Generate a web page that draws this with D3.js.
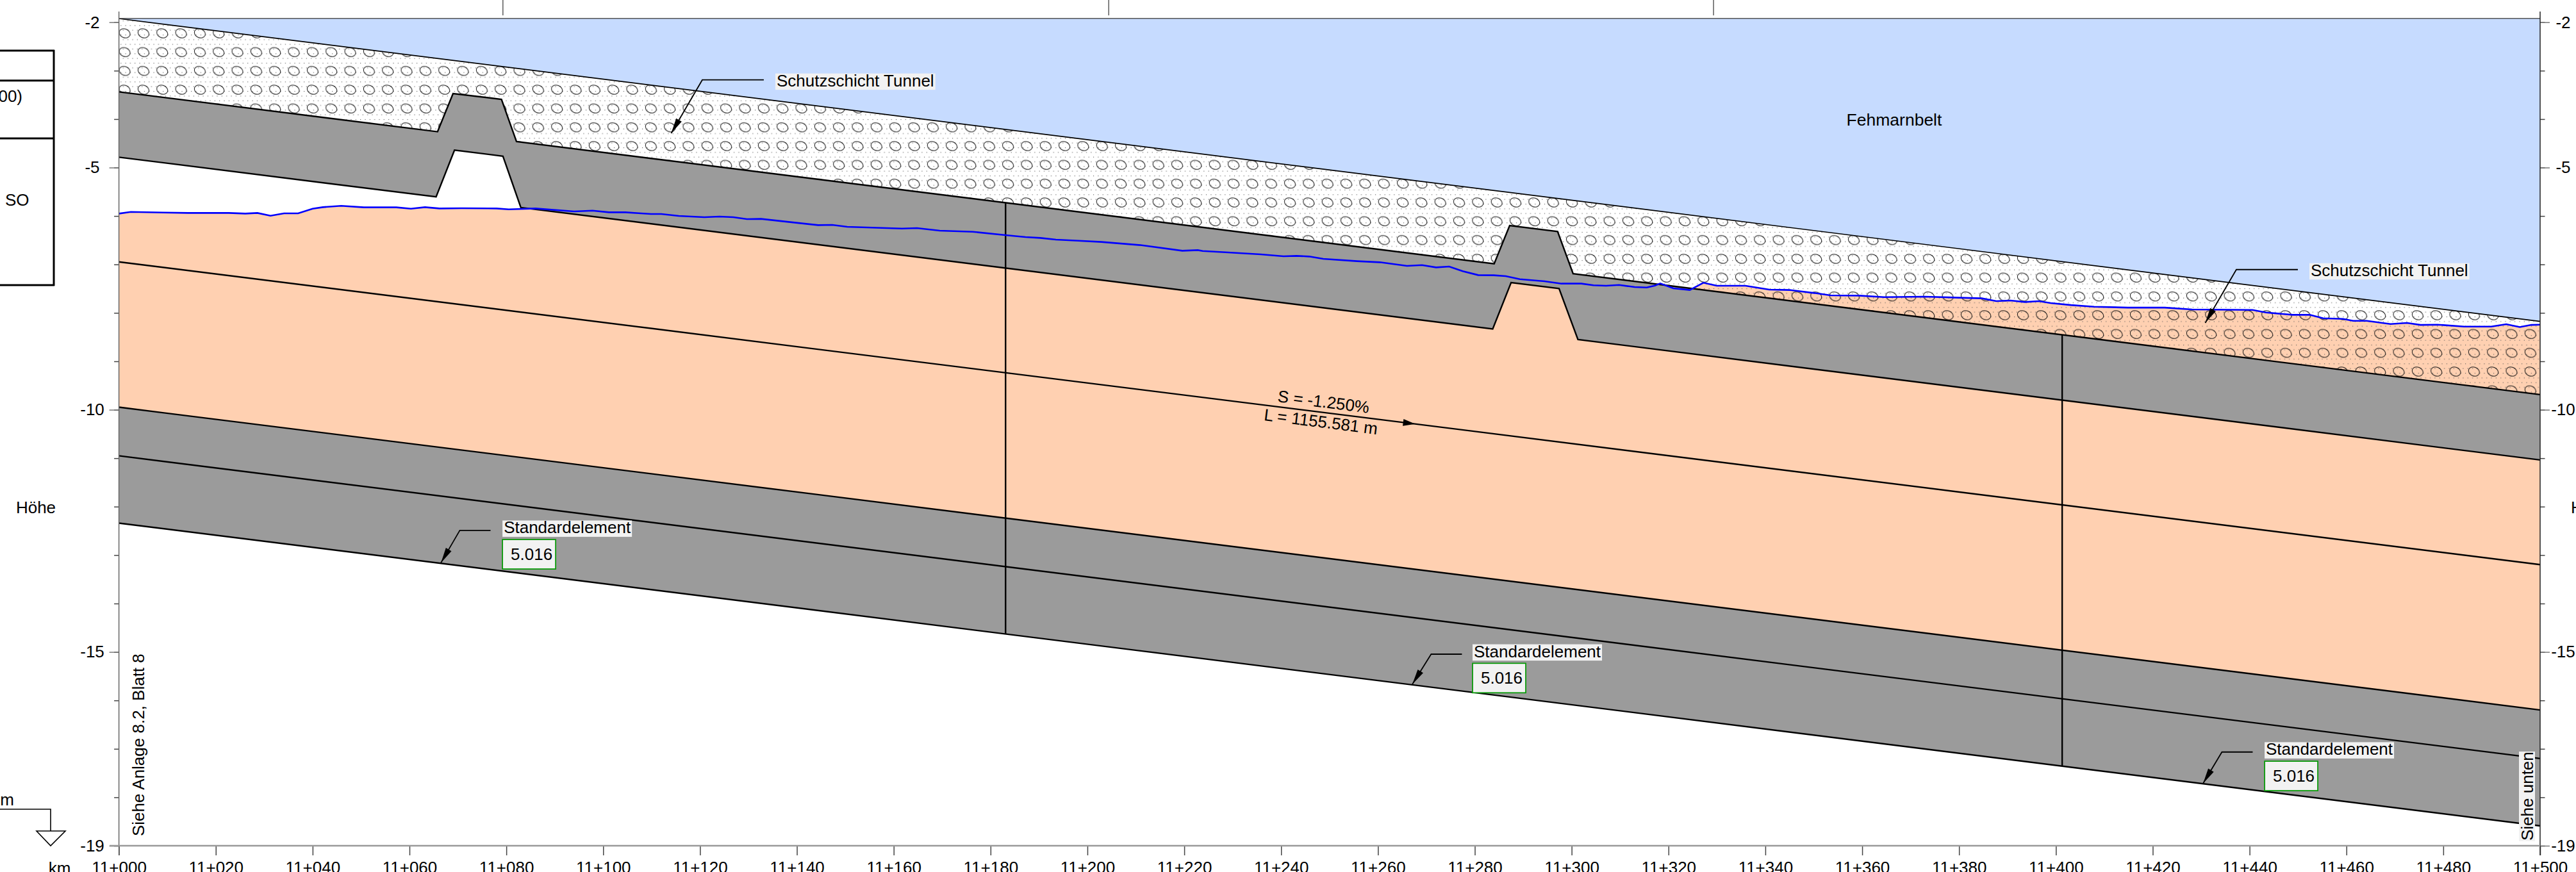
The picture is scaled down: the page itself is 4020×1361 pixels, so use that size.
<!DOCTYPE html>
<html>
<head>
<meta charset="utf-8">
<script src="https://cdn.jsdelivr.net/npm/d3@7"></script>
<style>
  body { margin: 0; background: #fff; overflow: hidden; }
  text { font-family: "Liberation Sans", Arial, sans-serif; font-size: 26px; fill: #000; }
</style>
</head>
<body>
<div id="graph"></div>
<script>
// all profile values are [station in m after 11+000, height in m]
var seabed = [[0, -1.925], [500, -8.175]];
var tunnelTop = [[0, -3.437], [65.8, -4.26], [69, -3.472], [79, -3.591], [82.1, -4.463],
  [284, -6.987], [287.2, -6.197], [297.1, -6.32], [300.3, -7.19], [500, -9.687]];
var tunnelBottom = [[0, -4.786], [65.5, -5.605], [69.3, -4.64], [79.3, -4.765], [83, -5.824],
  [283.7, -8.332], [287.5, -7.374], [297.4, -7.497], [301.3, -8.55], [500, -11.036]];
var gradeLine = [[0, -6.947], [500, -13.197]];
var elementTop = [[0, -9.947], [500, -16.197]];
var elementMid = [[0, -10.95], [500, -17.2]];
var elementBottom = [[0, -12.34], [500, -18.59]];
var ground = [[0, -5.95], [2.45, -5.915], [9.2, -5.928], [14.3, -5.937], [22.7, -5.937], [26.1, -5.95],
  [28.6, -5.937], [31.3, -5.994], [34.1, -5.946], [37, -5.946], [40, -5.849], [42.1, -5.818], [45.9, -5.791],
  [50.6, -5.822], [57.3, -5.822], [60.3, -5.849], [63.2, -5.818], [66.2, -5.844], [70.8, -5.84], [78, -5.844],
  [80.5, -5.862], [86, -5.844], [94, -5.906], [97.8, -5.889], [101.2, -5.924], [104.6, -5.924], [107.8, -5.946],
  [109.9, -5.959], [112, -5.959], [115.6, -5.998], [120.9, -6.025], [124, -6.012], [126.9, -6.025], [129.7, -6.065],
  [132.6, -6.06], [138.6, -6.126], [144.4, -6.188], [147.3, -6.184], [150.4, -6.223], [161.7, -6.259], [164.8, -6.25],
  [169.5, -6.303], [176.3, -6.325], [183.1, -6.395], [187.2, -6.435], [190.3, -6.453], [193.5, -6.488], [198.2, -6.51],
  [202.9, -6.536], [211.2, -6.603], [219.6, -6.717], [222.8, -6.704], [223.8, -6.722], [228.5, -6.748], [235.8, -6.792],
  [240.5, -6.832], [243.2, -6.823], [245.8, -6.836], [248.7, -6.885], [255.7, -6.933], [260.4, -6.955], [266, -7.03],
  [269.1, -7.013], [272, -7.061], [274.7, -7.043], [277.5, -7.14], [280.7, -7.22], [283.9, -7.224], [286.4, -7.242],
  [289.3, -7.304], [294.4, -7.348], [297.9, -7.396], [302, -7.396], [304.5, -7.431], [307.1, -7.44], [309.8, -7.423],
  [313, -7.467], [315.5, -7.476], [317.2, -7.436], [318.3, -7.392], [321, -7.493], [324.4, -7.528], [327.2, -7.378],
  [330, -7.44], [335.9, -7.44], [340.8, -7.52], [345, -7.528], [350.1, -7.59], [353.5, -7.639], [359.4, -7.643],
  [364.5, -7.674], [372.9, -7.665], [384.7, -7.7], [387.7, -7.758], [390.6, -7.744], [393.6, -7.775], [396.5, -7.758],
  [398.9, -7.798], [403.1, -7.838], [407.9, -7.873], [414.9, -7.891], [422.5, -7.891], [428.1, -7.93], [440.6, -7.939],
  [443.4, -7.992], [448.9, -8.04], [452.4, -8.04], [455.2, -8.111], [459.3, -8.124], [461.4, -8.164], [464.2, -8.164],
  [469.1, -8.23], [472.5, -8.208], [475.3, -8.248], [478.8, -8.243], [484.3, -8.283], [489.9, -8.283], [493, -8.234],
  [495.8, -8.292], [498.2, -8.248], [500, -8.243]];
var joints = [[183.1, -5.726, -14.629], [401.3, -8.453, -17.356]];
var topStations = [79.3, 204.4, 329.3];
var stationTicks = d3.range(0, 501, 20);
var heightMajor = [-2, -5, -10, -15, -19];
var heightMinor = d3.range(-2, -20, -1);
var schutzTips = [[114.05, -4.292], [430.85, -8.208]];
var elementTips = [[66.5, -13.159], [267.1, -15.668], [430.4, -17.714]];
var waterTop = -1.92;
var gradeLabels = ['S = -1.250%', 'L = 1155.581 m'];
var gradeArrow = 267.7;

var width = 4020, height = 1361;
var x = d3.scaleLinear().domain([0, 500]).range([185.6, 3964]);
var y = d3.scaleLinear().domain([-2, -19]).range([34.7, 1320]);
var line = d3.line().x(function(d) {return x(d[0]);}).y(function(d) {return y(d[1]);});

var svg = d3.select('#graph').append('svg')
  .attr('width', width)
  .attr('height', height)
  .style('display', 'block');

// gravel hatch of the protection layer
var tile = 29.33;
var pattern = svg.append('defs').append('pattern')
  .attr('id', 'gravel')
  .attr('patternUnits', 'userSpaceOnUse')
  .attr('x', 194.5 - tile / 2)
  .attr('y', 52 - tile / 2)
  .attr('width', tile)
  .attr('height', tile);
d3.range(4).forEach(function(i) {
  d3.range(4).forEach(function(j) {
    pattern.append('rect')
      .attr('x', (i + (j % 2) * 0.5) * tile / 4 + 1)
      .attr('y', j * tile / 4 + 2)
      .attr('width', 1.1)
      .attr('height', 1.1)
      .attr('fill', '#555');
  });
});
pattern.append('ellipse')
  .attr('cx', tile / 2).attr('cy', tile / 2)
  .attr('rx', 8.8).attr('ry', 6.8)
  .attr('transform', 'rotate(22 ' + tile / 2 + ' ' + tile / 2 + ')')
  .attr('fill', 'none').attr('stroke', '#111').attr('stroke-width', 1);

function area(upper, lower) {
  return line(upper.concat(lower.slice().reverse())) + 'Z';
}

svg.append('path').attr('d', area(ground, elementTop)).attr('fill', '#ffd0b1');
svg.append('path').attr('d', area([[0, waterTop], [500, waterTop]], seabed)).attr('fill', '#c6dbff');
svg.append('path').attr('d', area(seabed, tunnelTop)).attr('fill', 'url(#gravel)');
svg.append('path').attr('d', area(tunnelTop, tunnelBottom)).attr('fill', '#9b9b9b');
svg.append('path').attr('d', area(elementTop, elementBottom)).attr('fill', '#9b9b9b');

svg.selectAll('.thin').data([seabed]).enter().append('path')
  .attr('d', line).attr('fill', 'none').attr('stroke', '#000').attr('stroke-width', 1.7);
svg.selectAll('.bold').data([tunnelTop, tunnelBottom, gradeLine, elementTop, elementMid, elementBottom]).enter()
  .append('path')
  .attr('class', 'bold')
  .attr('d', line)
  .attr('fill', 'none').attr('stroke', '#000').attr('stroke-width', 2.4)
  .attr('stroke-linejoin', 'miter');
svg.selectAll('.joint').data(joints).enter().append('line')
  .attr('class', 'joint')
  .attr('x1', function(d) {return x(d[0]);})
  .attr('x2', function(d) {return x(d[0]);})
  .attr('y1', function(d) {return y(d[1]);})
  .attr('y2', function(d) {return y(d[2]);})
  .attr('stroke', '#000').attr('stroke-width', 2.4);
svg.append('path').attr('d', line(ground))
  .attr('fill', 'none').attr('stroke', '#0000ff').attr('stroke-width', 2.6);

// frame and axes
function styleAxis(g, color) {
  g.select('.domain').remove();
  g.selectAll('.tick line').attr('stroke', color).attr('stroke-width', 1.5);
  g.selectAll('.tick text').attr('fill', '#000').style('font-size', '26px');
}
function stationLabel(d) {
  return '11+' + d3.format('03d')(d);
}
svg.append('line').attr('x1', x(0)).attr('x2', x(500)).attr('y1', y(waterTop)).attr('y2', y(waterTop))
  .attr('stroke', '#555').attr('stroke-width', 1.5);

var bottomAxis = svg.append('g').attr('transform', 'translate(0,' + y(-19) + ')')
  .call(d3.axisBottom(x).tickValues(stationTicks).tickFormat(stationLabel).tickSize(15).tickPadding(10));
styleAxis(bottomAxis, '#444');

[[d3.axisLeft, x(0), -41.6, '#777'], [d3.axisRight, x(500), 36, '#777']].forEach(function(a) {
  var minor = svg.append('g').attr('transform', 'translate(' + a[1] + ',0)')
    .call(a[0](y).tickValues(heightMinor).tickFormat('').tickSize(7.5));
  styleAxis(minor, '#444');
  var major = svg.append('g').attr('transform', 'translate(' + a[1] + ',0)')
    .call(a[0](y).tickValues(heightMajor).tickFormat(function(d) {return String(d);}).tickSize(15));
  styleAxis(major, a[3]);
  major.selectAll('.tick text').attr('x', a[2]).attr('text-anchor', 'middle');
  svg.append('line').attr('x1', a[1]).attr('x2', a[1]).attr('y1', 18).attr('y2', 1335)
    .attr('stroke', a[0] === d3.axisLeft ? '#666' : '#222').attr('stroke-width', 1.5);
});
svg.append('line').attr('x1', 171).attr('x2', x(500)).attr('y1', y(-19)).attr('y2', y(-19))
  .attr('stroke', '#999').attr('stroke-width', 2.4);

svg.selectAll('.topTick').data(topStations).enter().append('line')
  .attr('class', 'topTick')
  .attr('x1', function(d) {return x(d);})
  .attr('x2', function(d) {return x(d);})
  .attr('y1', 0).attr('y2', 24)
  .attr('stroke', '#333').attr('stroke-width', 1.2);

// title block stub on the left
[79, 125.7, 216, 445].forEach(function(yy) {
  svg.append('line').attr('x1', 0).attr('x2', 85).attr('y1', yy).attr('y2', yy)
    .attr('stroke', '#000').attr('stroke-width', 3);
});
svg.append('line').attr('x1', 84).attr('x2', 84).attr('y1', 78).attr('y2', 446)
  .attr('stroke', '#000').attr('stroke-width', 3);
svg.append('text').attr('x', 35).attr('y', 159).attr('text-anchor', 'end').text('(100)');
svg.append('text').attr('x', 8).attr('y', 321).text('SO');
svg.append('text').attr('x', 56).attr('y', 801).attr('text-anchor', 'middle').text('Höhe');
svg.append('text').attr('x', 4043).attr('y', 801).attr('text-anchor', 'middle').text('Höhe');
svg.append('text').attr('x', 22).attr('y', 1257).attr('text-anchor', 'end').text('m');
svg.append('text').attr('x', 93).attr('y', 1363.6).attr('text-anchor', 'middle').text('km');
svg.append('path').attr('d', 'M0,1263H79V1297M57,1297H102L79,1320Z')
  .attr('fill', 'none').attr('stroke', '#000').attr('stroke-width', 1.6);

svg.append('text').attr('x', 2956).attr('y', 196).attr('text-anchor', 'middle').style('font-size', '26.5px').text('Fehmarnbelt');
svg.append('text').attr('transform', 'translate(225,1305) rotate(-90)').text('Siehe Anlage 8.2, Blatt 8');
svg.append('rect').attr('x', 3931).attr('y', 1173).attr('width', 25).attr('height', 140).attr('fill', '#f2f2f2');
svg.append('text').attr('transform', 'translate(3953,1312) rotate(-90)').text('Siehe unten');

// grade labels follow the slope of the line
var gradeAngle = Math.atan2(y(gradeLine[1][1]) - y(gradeLine[0][1]), x(500) - x(0));
var gradeDeg = gradeAngle * 180 / Math.PI;
svg.append('text').attr('transform', 'translate(1993,627) rotate(' + gradeDeg + ')').text(gradeLabels[0]);
svg.append('text').attr('transform', 'translate(1971.7,656) rotate(' + gradeDeg + ')').text(gradeLabels[1]);
var arrowY = d3.scaleLinear().domain([0, 500]).range([gradeLine[0][1], gradeLine[1][1]]);
svg.append('path')
  .attr('transform', 'translate(' + x(gradeArrow) + ',' + y(arrowY(gradeArrow)) + ') rotate(' + gradeDeg + ')')
  .attr('d', 'M0,0L-19,-5.5V5.5Z')
  .attr('fill', '#000');

function leader(tip, kneeDx, endDx, dy) {
  var tx = x(tip[0]), ty = y(tip[1]);
  var kx = tx + kneeDx, ky = ty + dy;
  svg.append('path')
    .attr('d', 'M' + tx + ',' + ty + 'L' + kx + ',' + ky + 'H' + (tx + endDx))
    .attr('fill', 'none').attr('stroke', '#000').attr('stroke-width', 1.8);
  var len = Math.sqrt(kneeDx * kneeDx + dy * dy);
  var ux = kneeDx / len, uy = dy / len;
  var bx = tx + ux * 24, by = ty + uy * 24;
  svg.append('path')
    .attr('d', 'M' + tx + ',' + ty + 'L' + (bx - uy * 5) + ',' + (by + ux * 5) + 'L' + (bx + uy * 5) + ',' + (by - ux * 5) + 'Z')
    .attr('fill', '#000');
}
function label(xx, top, str) {
  var bg = svg.append('rect').attr('x', xx).attr('y', top).attr('height', 25.5).attr('fill', '#f2f2f2');
  var t = svg.append('text').attr('x', xx + 2).attr('y', top + 20).text(str);
  bg.attr('width', t.node().getComputedTextLength() + 4);
}

schutzTips.forEach(function(tip) {
  leader(tip, 48.5, 144.5, -83.3);
  label(x(tip[0]) + 162.5, y(tip[1]) - 93.3, 'Schutzschicht Tunnel');
});
// the labels do not sit at quite the same offset from their arrows
var elementShift = [[0, 0], [-2, 3.5], [0, 1.6]];
elementTips.forEach(function(tip, i) {
  var tx = x(tip[0]) + elementShift[i][0], ty = y(tip[1]) + elementShift[i][1];
  leader(tip, 29.4, 77.4, -50.6 + elementShift[i][1]);
  label(tx + 96, ty - 66, 'Standardelement');
  svg.append('rect').attr('x', tx + 96).attr('y', ty - 36.3).attr('width', 83).attr('height', 46)
    .attr('fill', '#f2f2f2').attr('stroke', '#0a9a0a').attr('stroke-width', 1.8);
  svg.append('text').attr('x', tx + 141.5).attr('y', ty - 4.5).attr('text-anchor', 'middle').text('5.016');
});
</script>
</body>
</html>
